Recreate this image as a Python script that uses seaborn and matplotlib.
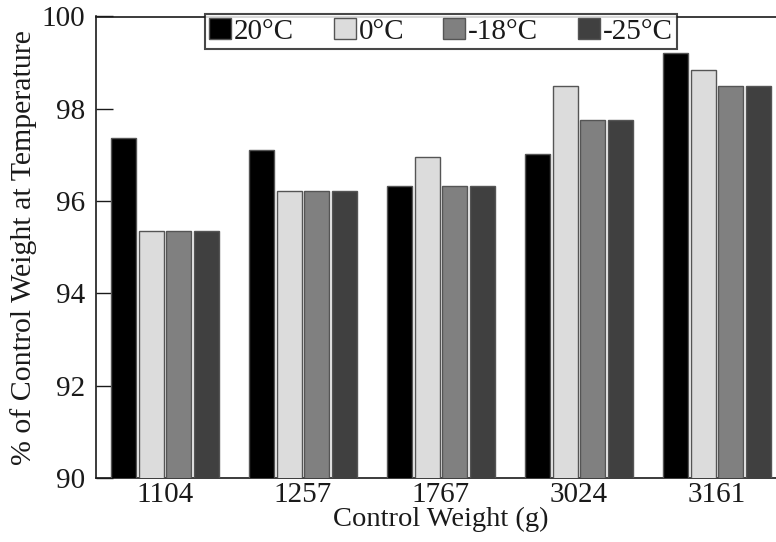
import matplotlib
matplotlib.use("Agg")
import matplotlib.pyplot as plt
import seaborn as sns
import pandas as pd

weights = ["1104", "1257", "1767", "3024", "3161"]
temps = ["20°C", "0°C", "-18°C", "-25°C"]
v_20 = [97.37, 97.11, 96.33, 97.02, 99.20]
v_0 = [95.35, 96.21, 96.96, 98.49, 98.84]
v_m18 = [95.35, 96.21, 96.33, 97.76, 98.49]
v_m25 = [95.35, 96.21, 96.33, 97.76, 98.49]
colors = ["#000000", "#dcdcdc", "#808080", "#404040"]

rows = []
for t, vals in zip(temps, [v_20, v_0, v_m18, v_m25]):
    for w, v in zip(weights, vals):
        rows.append({"weight": w, "temp": t, "value": v})
df = pd.DataFrame(rows)

sns.set_style("white")
plt.rcParams["font.family"] = ["Liberation Serif", "DejaVu Serif"]
plt.rcParams["text.color"] = "#1a1a1a"
plt.rcParams["axes.labelcolor"] = "#1a1a1a"
plt.rcParams["xtick.color"] = "#1a1a1a"
plt.rcParams["ytick.color"] = "#1a1a1a"

fig = plt.figure(figsize=(7.76, 5.42), dpi=100)
ax = fig.add_axes([96/776, 1-478/542, (786-96)/776, (478-16.5)/542])

sns.barplot(data=df, x="weight", y="value", hue="temp", order=weights,
            hue_order=temps, palette=colors, width=0.8, gap=0.08,
            edgecolor="#555555", linewidth=1.0, ax=ax, zorder=3)

ax.set_ylim(90, 100)
ax.set_xlim(-0.5, 4.5)
ax.set_yticks([90, 92, 94, 96, 98, 100])
ax.set_yticklabels(["90", "92", "94", "96", "98", "100"], fontsize=21)
ax.set_xticks(range(len(weights)))
ax.set_xticklabels(weights, fontsize=21)
ax.set_xticks([0.5, 1.5, 2.5, 3.5], minor=True)
ax.tick_params(axis="x", which="major", length=0, pad=3)
ax.tick_params(axis="x", which="minor", direction="in", length=10, width=1.0, color="#1a1a1a")
ax.tick_params(axis="y", direction="in", length=12, width=1.0, pad=8, left=True)
ax.set_xlabel("Control Weight (g)", fontsize=20.5, labelpad=-1)
ax.set_ylabel("% of Control Weight at Temperature", fontsize=21.5, labelpad=3)

for s in ["left", "bottom", "top", "right"]:
    ax.spines[s].set_color("#1a1a1a")
    ax.spines[s].set_linewidth(1.2)
    ax.spines[s].set_visible(True)

h, l = ax.get_legend_handles_labels()
ax.legend(h, l, ncol=4, loc="upper left",
          bbox_to_anchor=(205/776, 1-14/542), bbox_transform=fig.transFigure,
          fontsize=21, frameon=True, fancybox=False, edgecolor="#1a1a1a",
          handlelength=0.75, handleheight=0.7, handletextpad=0.1,
          columnspacing=1.35, borderpad=0.15, borderaxespad=0)
ax.get_legend().get_frame().set_linewidth(1.5)
ax.get_legend().set_zorder(5)

fig.savefig("out.png", dpi=100)
